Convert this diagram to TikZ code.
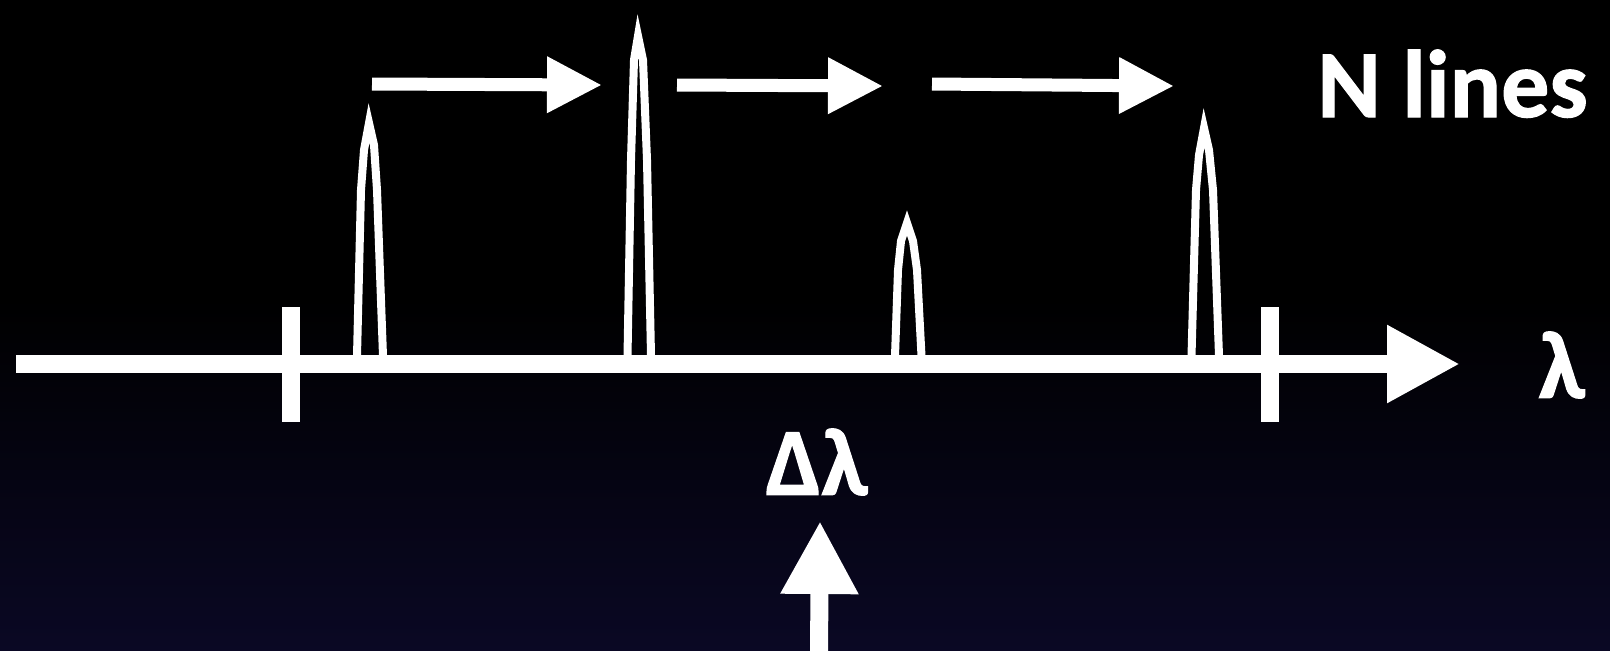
\documentclass[tikz,border=0pt]{standalone}
\usepackage{fontspec}
\setmainfont{Carlito}[BoldFont={Carlito Bold}, BoldFeatures={FakeBold=1.2}]
\usetikzlibrary{arrows.meta}

\definecolor{slidenavy}{RGB}{10,8,36}

\tikzset{
    axisline/.style={white, line width=9pt},
    spike/.style={white, line width=4pt, line join=miter},
    shiftarrow/.style={white, line width=6.5pt, -{Triangle[length=27.5pt, width=26.5pt]}},
    bigarrow/.style={white, line width=9pt, -{Triangle[length=36.5pt, width=36.5pt]}},
    bigtext/.style={white, font=\bfseries\fontsize{48}{58}\selectfont, inner sep=0pt},
}

\begin{document}
\begin{tikzpicture}[x=0.5pt, y=-0.5pt]

    % background
    \fill[black] (0,0) rectangle (1610,300);
    \shade[top color=black, bottom color=slidenavy] (0,299) rectangle (1610,650);
    \useasboundingbox (0,0) rectangle (1610,650);

    % wavelength axis
    \coordinate (axstart) at (16,364);
    \coordinate (axend) at (1460,364);
    \draw[bigarrow] (axstart) -- (axend);
    \node[bigtext, anchor=center] (lam) at (1562,365) {λ};

    % band edges
    \draw[axisline] (291,307) coordinate(edgeL) -- (291,422);
    \draw[axisline] (1270,307) coordinate(edgeR) -- (1270,422);

    % spectral lines
    \draw[spike] (357,356) -- (361,190) -- (364,150) -- (369,123) coordinate(pkA) -- (374,145) -- (377,190) -- (383,356);
    \draw[spike] (627.5,356) -- (631,160) -- (634,60) -- (638,36) coordinate(pkB) -- (643,60) -- (647,160) -- (651,356);
    \draw[spike] (895,356) -- (898,270) -- (901,241) -- (907,223) coordinate(pkC) -- (913,241) -- (917,270) -- (921.5,356);
    \draw[spike] (1191.5,356) -- (1196,190) -- (1199,155) -- (1204,128) coordinate(pkD) -- (1209,150) -- (1213,190) -- (1219,356);

    % shifts between lines
    \coordinate (sa1) at (372,84);
    \coordinate (sa2) at (602,85);
    \coordinate (sb1) at (677,85);
    \coordinate (sb2) at (883,86);
    \coordinate (sc1) at (932,84);
    \coordinate (sc2) at (1174,86);
    \draw[shiftarrow] (sa1) -- (sa2);
    \draw[shiftarrow] (sb1) -- (sb2);
    \draw[shiftarrow] (sc1) -- (sc2);

    \node[bigtext, anchor=base west] (nlines) at (1317,117) {N lines};

    % band width
    \node[bigtext, anchor=center] (dlam) at (817,462) {Δλ};
    \coordinate (upfoot) at (819,652);
    \coordinate (uptip) at (820,521);
    \draw[bigarrow] (upfoot) -- (uptip);

\end{tikzpicture}
\end{document}
